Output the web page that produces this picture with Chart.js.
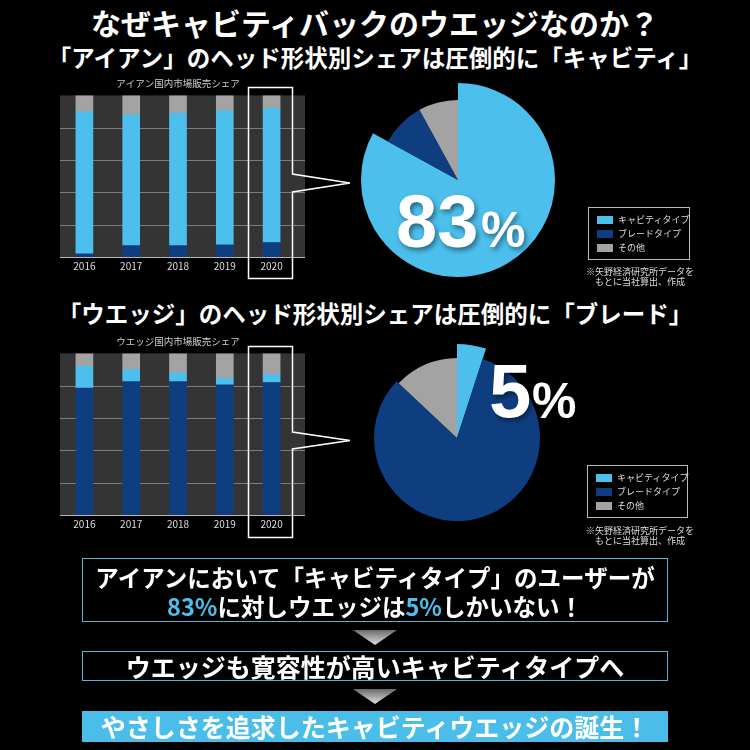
<!DOCTYPE html>
<html lang="ja">
<head>
<meta charset="utf-8">
<title>なぜキャビティバックのウエッジなのか？</title>
<script src="https://cdn.jsdelivr.net/npm/chart.js@4.4.1/dist/chart.umd.min.js"></script>
<style>
  body { margin: 0; background: #000; }
  #page { position: relative; width: 750px; height: 750px; overflow: hidden; background: #000; color: #fff;
          font-family: 'Noto Sans CJK JP', 'Noto Sans', sans-serif; }
  .abs { position: absolute; }
  .head { left: 0; width: 750px; text-align: center; font-weight: 700; white-space: nowrap; }
  .big { font-family: 'Liberation Sans', Arial, sans-serif; font-weight: 700; line-height: 1; white-space: nowrap;
         text-shadow: 2px 3px 5px rgba(0,0,0,0.45); }
  .legend { border: 1px solid #bbb; box-sizing: border-box; padding: 5px 0 0 8px; font-size: 9px; color: #ddd; }
  .legend div { height: 14px; line-height: 14px; white-space: nowrap; }
  .legend span { display: inline-block; width: 16px; height: 8px; margin-right: 5px; vertical-align: -0.5px; }
  .note { font-size: 9px; line-height: 10px; color: #ddd; text-align: center; width: 120px; }
  .box { left: 82px; width: 586px; box-sizing: border-box; text-align: center; font-weight: 700; white-space: nowrap; }
  .blue { color: #4cbfec; }
  .arrow { width: 44px; height: 15px; left: 353px; clip-path: polygon(0 0, 100% 0, 50% 100%);
           background: linear-gradient(to bottom, #6a6a6a, #e0e0e0); }
</style>
</head>
<body>
<div id="page">
  <div class="abs head" style="top:3px; font-size:30px; line-height:38px;">なぜキャビティバックのウエッジなのか？</div>
  <div class="abs head" style="top:42px; font-size:23.5px; line-height:30px;">「アイアン」のヘッド形状別シェアは圧倒的に「キャビティ」</div>
  <div class="abs head" style="top:298px; font-size:23.5px; line-height:30px;">「ウエッジ」のヘッド形状別シェアは圧倒的に「ブレード」</div>

  <canvas id="ironBars" class="abs" width="320" height="206" style="left:0; top:74px;"></canvas>
  <canvas id="wedgeBars" class="abs" width="320" height="206" style="left:0; top:332px;"></canvas>
  <canvas id="ironPie" class="abs" width="194" height="194" style="left:361px; top:83px;"></canvas>
  <canvas id="wedgePie" class="abs" width="188" height="188" style="left:363px; top:344px;"></canvas>

  <svg class="abs" width="750" height="750" style="left:0; top:0; pointer-events:none;">
    <path d="M248.5,87.5 H292.5 V174 L350,183 L292.5,192 V278.5 H248.5 Z" fill="none" stroke="#fff" stroke-width="1.5"/>
    <path d="M248.5,346.5 H292.5 V432 L350,440.5 L292.5,449 V537.5 H248.5 Z" fill="none" stroke="#fff" stroke-width="1.5"/>
  </svg>

  <div class="abs big" style="left:396px; top:185px; font-size:74px;">83</div>
  <div class="abs big" style="left:481px; top:205px; font-size:50px;">%</div>
  <div class="abs big" style="left:489px; top:353px; font-size:76px;">5</div>
  <div class="abs big" style="left:532px; top:376px; font-size:50px;">%</div>

  <div id="ironLegend" class="abs legend" style="left:588px; top:207px; width:102px; height:53px;"></div>
  <div class="abs note" style="left:580px; top:267px;">※矢野経済研究所データを<br>もとに当社算出、作成</div>
  <div id="wedgeLegend" class="abs legend" style="left:587px; top:465px; width:101px; height:53px;"></div>
  <div class="abs note" style="left:580px; top:526px;">※矢野経済研究所データを<br>もとに当社算出、作成</div>

  <div class="abs box" style="top:558px; height:64px; border:1px solid #59b3d6; font-size:23.5px; line-height:29px; padding-top:4px;">
    アイアンにおいて「キャビティタイプ」のユーザーが<br><span class="blue">83%</span>に対しウエッジは<span class="blue">5%</span>しかいない！
  </div>
  <div class="abs arrow" style="top:630px;"></div>
  <div class="abs box" style="top:651px; height:30px; border:1px solid #59b3d6; font-size:25px; line-height:28px;">ウエッジも寛容性が高いキャビティタイプへ</div>
  <div class="abs arrow" style="top:689px;"></div>
  <div class="abs box" style="top:711px; height:31px; background:#4bbde9; font-size:25px; line-height:31px;">やさしさを追求したキャビティウエッジの誕生！</div>
</div>

<script>
// categories
var years = ['2016', '2017', '2018', '2019', '2020'];
var typeLabels = ['キャビティタイプ', 'ブレードタイプ', 'その他'];
var typeColors = ['#4cbfec', '#0e3e80', '#a3a3a3'];

// アイアン国内市場販売シェア (%)
var ironCavity = [88, 81, 82, 83, 83];
var ironBlade  = [2, 7, 7, 7.5, 9];
var ironOther  = [10, 12, 11, 9.5, 8];

// ウエッジ国内市場販売シェア (%)
var wedgeCavity = [13.5, 7.5, 5.5, 4, 5];
var wedgeBlade  = [78.5, 82.5, 82.5, 80.5, 82];
var wedgeOther  = [8, 10, 12, 15.5, 13];

// 2020 pies, order: cavity, blade, other
var ironPie2020  = [83, 9, 8];
var wedgePie2020 = [5, 82, 13];

var gridValues = [0, 20, 40, 60, 80];

Chart.defaults.font.family = "'Noto Sans CJK JP', 'Noto Sans', sans-serif";
Chart.defaults.animation = false;

// dark panel behind the bars, a bit wider than the chart area, with its own grid lines
var plotBackdrop = {
	id: 'plotBackdrop',
	beforeDatasetsDraw: function(chart, args, opts) {
		var ctx = chart.ctx, a = chart.chartArea, y = chart.scales.y;
		var left = a.left - opts.padLeft, right = a.right + opts.padRight;
		ctx.save();
		ctx.fillStyle = opts.color;
		ctx.fillRect(left, a.top, right - left, a.bottom - a.top);
		ctx.lineWidth = 1;
		gridValues.forEach(function(v) {
			var py = Math.round(y.getPixelForValue(v)) + 0.5;
			ctx.strokeStyle = v === 0 ? opts.baseColor : opts.lineColor;
			ctx.beginPath();
			ctx.moveTo(left, py);
			ctx.lineTo(right, py);
			ctx.stroke();
		});
		ctx.restore();
	}
};

// lets some slices stick out further than the others
var sliceRadius = {
	id: 'sliceRadius',
	afterDatasetsUpdate: function(chart, args, opts) {
		var meta = chart.getDatasetMeta(0);
		var r = meta.controller.outerRadius;
		meta.data.forEach(function(arc, i) {
			arc.outerRadius = r * opts.scale[i];
		});
	}
};

function makeBars(id, caption, blade, cavity, other) {
	return new Chart(document.getElementById(id), {
		type: 'bar',
		data: {
			labels: years,
			datasets: [
				{ label: typeLabels[1], data: blade, backgroundColor: typeColors[1] },
				{ label: typeLabels[0], data: cavity, backgroundColor: typeColors[0] },
				{ label: typeLabels[2], data: other, backgroundColor: typeColors[2] }
			]
		},
		options: {
			responsive: false,
			events: [],
			barThickness: 17,
			borderWidth: 0,
			layout: { padding: { left: 61, right: 25, top: 0, bottom: 5 } },
			scales: {
				x: {
					stacked: true,
					grid: { display: false, drawTicks: false },
					border: { display: false },
					ticks: { color: '#ddd', font: { size: 10 }, padding: 3 }
				},
				y: { stacked: true, display: false, min: 0, max: 100 }
			},
			plugins: {
				legend: { display: false },
				tooltip: { enabled: false },
				title: {
					display: true, text: caption, color: '#cfcfcf',
					font: { size: 9.5, weight: 'normal' },
					padding: { top: 4, bottom: 6 }
				},
				plotBackdrop: { color: '#343434', lineColor: '#7c7c7c', baseColor: '#b5b5b5', padLeft: 1, padRight: 10 }
			}
		},
		plugins: [plotBackdrop]
	});
}

function makePie(id, values, scale) {
	return new Chart(document.getElementById(id), {
		type: 'pie',
		data: {
			labels: typeLabels,
			datasets: [{ data: values, backgroundColor: typeColors, borderWidth: 0 }]
		},
		options: {
			responsive: false,
			events: [],
			plugins: {
				legend: { display: false },
				tooltip: { enabled: false },
				sliceRadius: { scale: scale }
			}
		},
		plugins: [sliceRadius]
	});
}

function fillLegend(id) {
	var html = '';
	typeLabels.forEach(function(name, i) {
		html += '<div><span style="background:' + typeColors[i] + '"></span>' + name + '</div>';
	});
	document.getElementById(id).innerHTML = html;
}

makeBars('ironBars', 'アイアン国内市場販売シェア', ironBlade, ironCavity, ironOther);
makeBars('wedgeBars', 'ウエッジ国内市場販売シェア', wedgeBlade, wedgeCavity, wedgeOther);
makePie('ironPie', ironPie2020, [1, 0.825, 0.825]);
makePie('wedgePie', wedgePie2020, [1, 0.883, 0.851]);
fillLegend('ironLegend');
fillLegend('wedgeLegend');
</script>
</body>
</html>
